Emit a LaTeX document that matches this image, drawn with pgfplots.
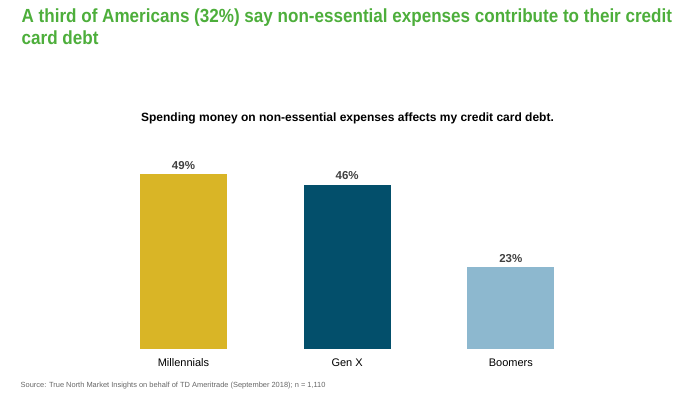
\documentclass[border=0pt]{standalone}
\usepackage{pgfplots}
\pgfplotsset{compat=1.18}
\usepackage{fontspec}
\setmainfont{Liberation Sans}
\newfontfamily\titlefont[FakeStretch=0.898]{Liberation Sans}
\definecolor{titlegreen}{HTML}{4DAE3B}
\definecolor{cgold}{HTML}{D9B526}
\definecolor{cteal}{HTML}{034F6B}
\definecolor{clight}{HTML}{8DB8CF}
\definecolor{txtgray}{HTML}{404040}
\definecolor{srcgray}{HTML}{666666}
\begin{document}
\begin{tikzpicture}[x=1pt,y=1pt]
\path[use as bounding box] (0,0) rectangle (700,395);
\node[anchor=base west,inner sep=0,text=titlegreen,font=\titlefont\bfseries\fontsize{19}{22.5}\selectfont,align=left] at (21.5,372.3) {A third of Americans (32\%) say non-essential expenses contribute to their credit};
\node[anchor=base west,inner sep=0,text=titlegreen,font=\titlefont\bfseries\fontsize{19}{22.5}\selectfont] at (21.5,350) {card debt};
\node[anchor=base,inner sep=0,font=\bfseries\fontsize{12}{13}\selectfont] at (347.5,273) {Spending money on non-essential expenses affects my credit card debt.};
\node[anchor=base west,inner sep=0,text=srcgray,font=\fontsize{7.45}{8}\selectfont] at (20.5,7.5) {Source: True North Market Insights on behalf of TD Ameritrade (September 2018); n = 1,110};
\begin{axis}[
  at={(101.65pt,46pt)}, anchor=south west,
  scale only axis, width=491pt, height=214.5pt,
  xmin=-0.5, xmax=2.5, ymin=0, ymax=60,
  axis line style={draw=none},
  ytick=\empty,
  xtick={0,1,2},
  xticklabels={Millennials,Gen X,Boomers},
  major tick length=0pt,
  xticklabel style={font=\fontsize{11}{13}\selectfont,text=black,yshift=-6pt},
  /pgf/number format/assume math mode=true,
  ybar, bar width=87pt, bar shift=0pt,
  nodes near coords={\pgfmathprintnumber{\pgfplotspointmeta}\%},
  nodes near coords style={font=\bfseries\fontsize{11.5}{13}\selectfont,text=txtgray,yshift=1pt},
  clip=false,
]
\addplot[fill=cgold,draw=none] coordinates {(0,49)};
\addplot[fill=cteal,draw=none] coordinates {(1,46)};
\addplot[fill=clight,draw=none] coordinates {(2,23)};
\end{axis}
\end{tikzpicture}
\end{document}
